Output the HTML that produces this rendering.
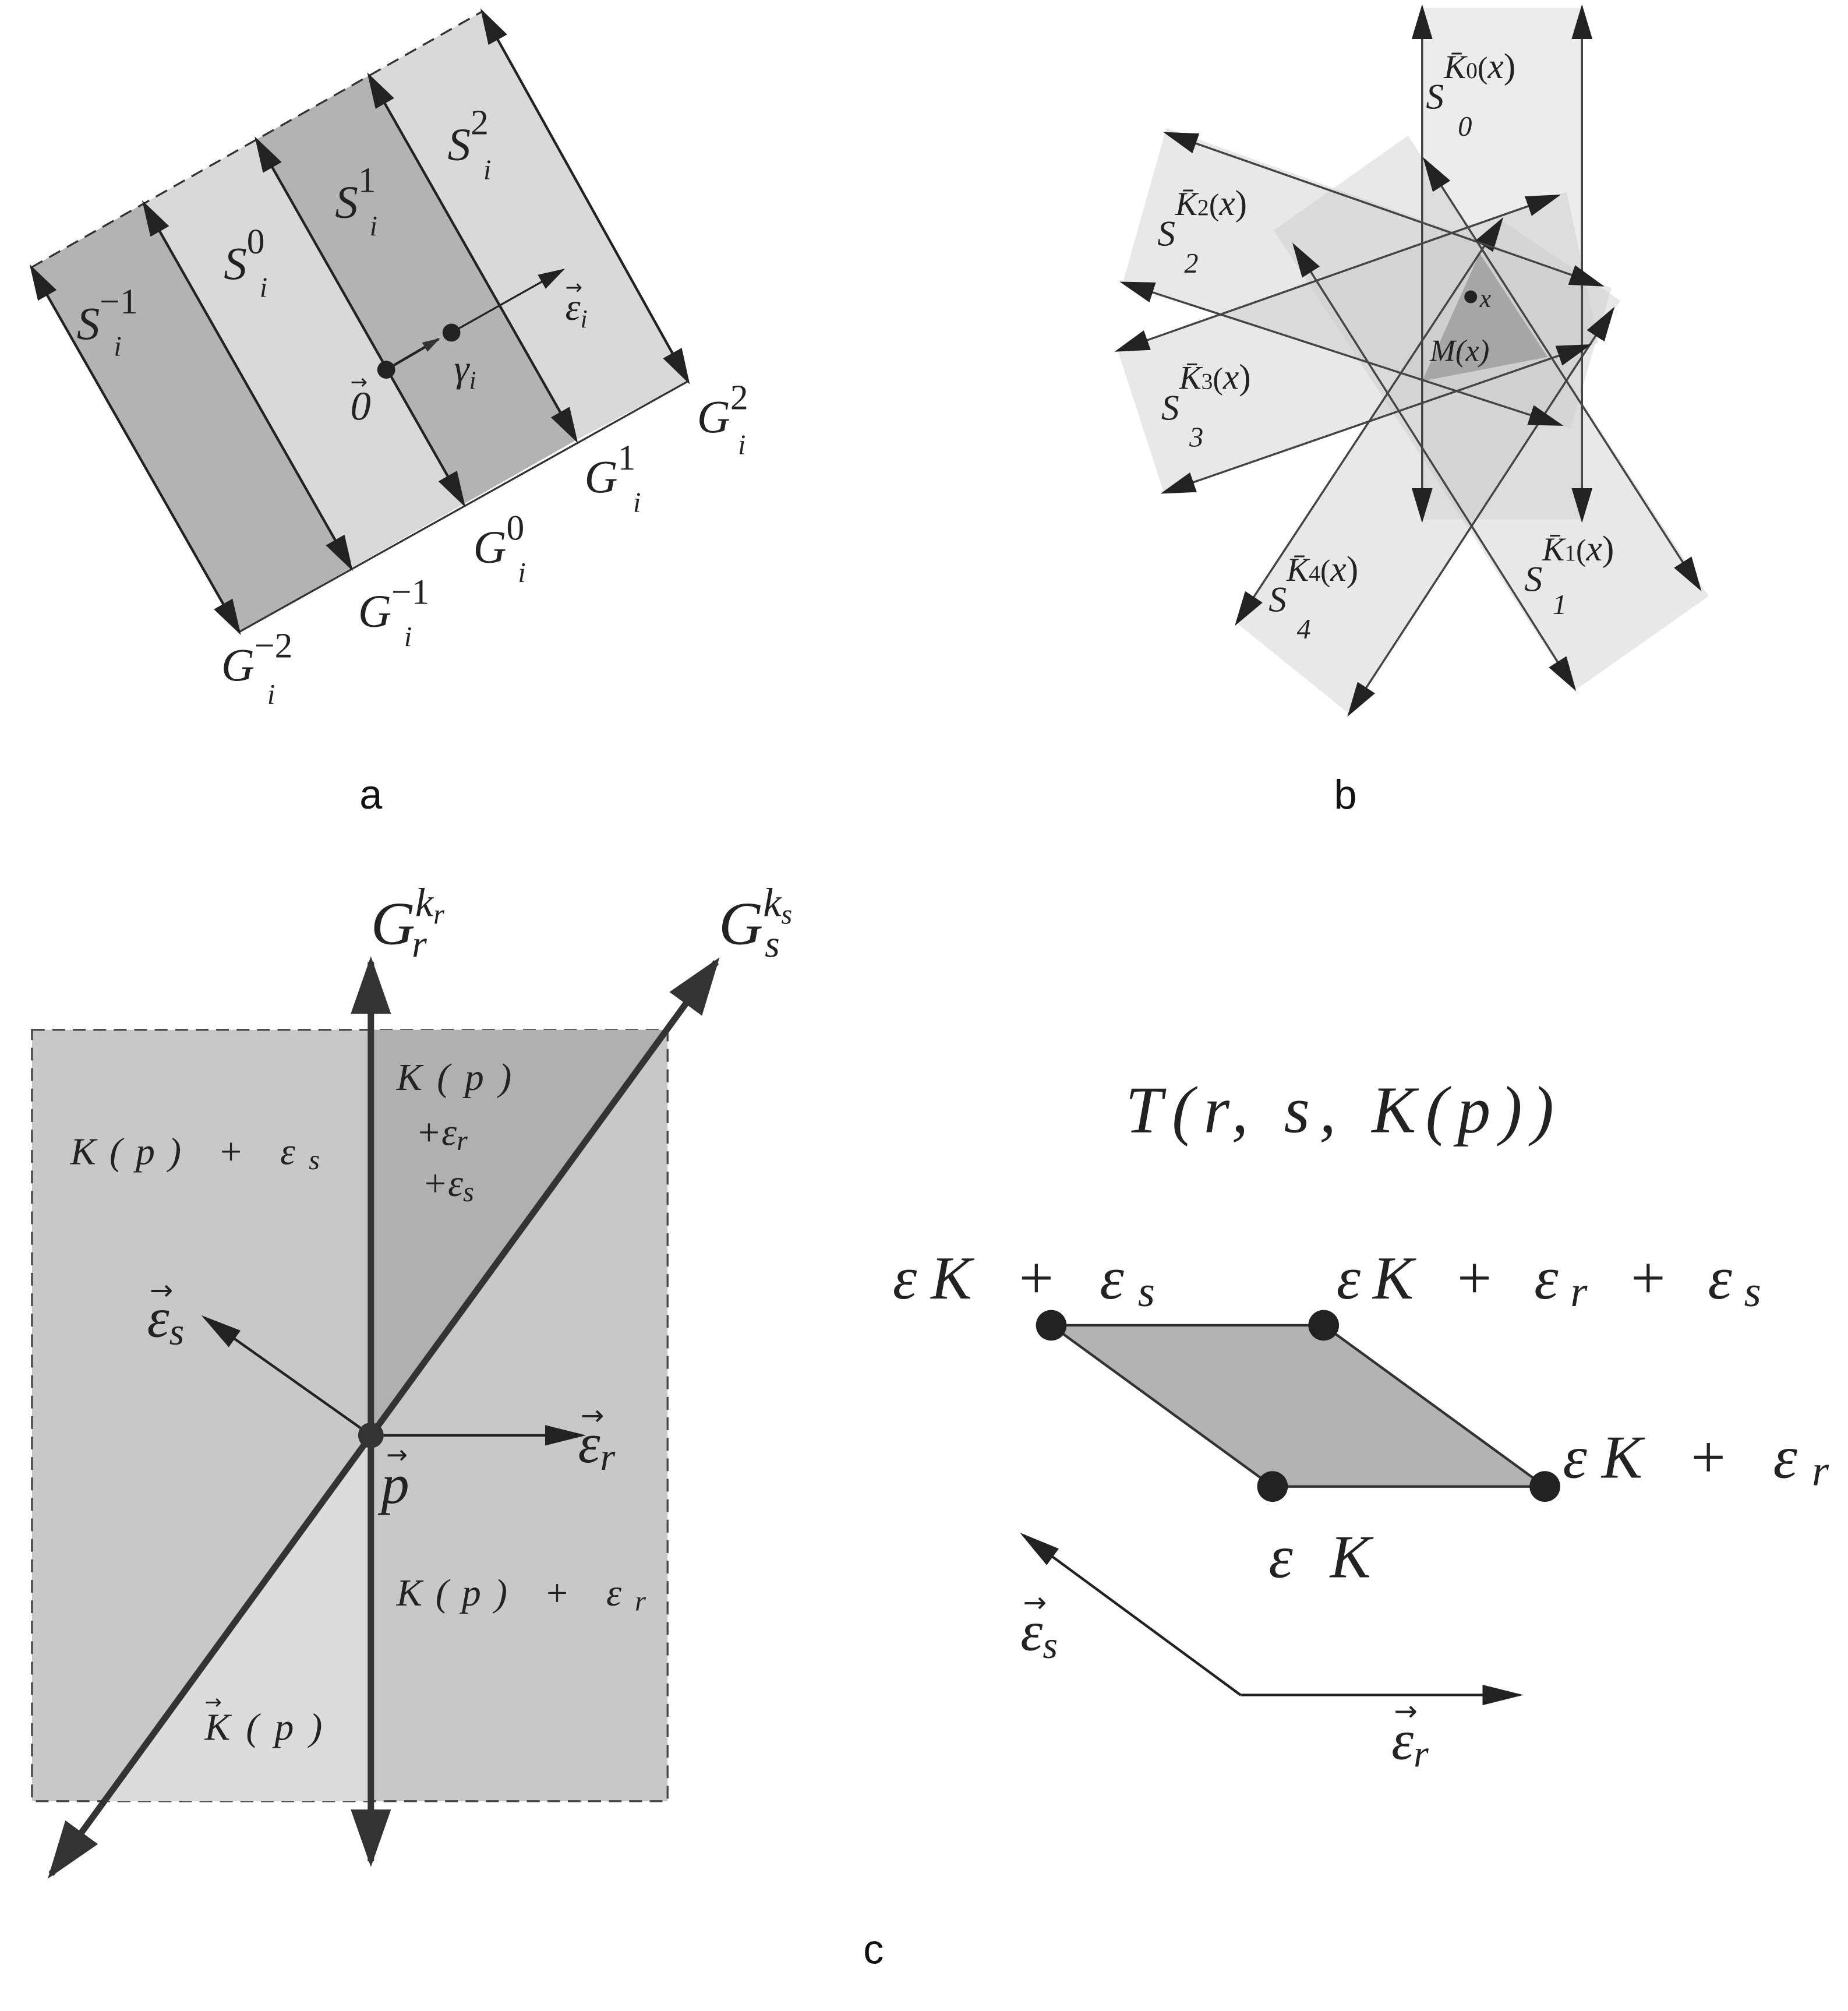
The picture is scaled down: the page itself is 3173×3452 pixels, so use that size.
<!DOCTYPE html>
<html><head><meta charset="utf-8"><style>
html,body{margin:0;padding:0;background:#fff}
svg{display:block}
.m{font-family:"Liberation Serif",serif;font-style:italic;fill:#222}
.s{font-family:"Liberation Sans",sans-serif;fill:#111}
.ar{font-family:"DejaVu Sans",sans-serif;fill:#222}
</style></head><body>
<svg width="3173" height="3452" viewBox="0 0 1445 1572" xmlns="http://www.w3.org/2000/svg">
<defs>
<marker id="ah" viewBox="0 0 10 10" refX="9" refY="5" markerWidth="14" markerHeight="14" markerUnits="strokeWidth" orient="auto-start-reverse"><path d="M0,2 L10,5 L0,8 z" fill="#222"/></marker>
<marker id="ahb" viewBox="0 0 10 10" refX="9" refY="5" markerWidth="17" markerHeight="17" markerUnits="strokeWidth" orient="auto-start-reverse"><path d="M0,2 L10,5 L0,8 z" fill="#222"/></marker>
<marker id="ah2" viewBox="0 0 10 10" refX="9" refY="5" markerWidth="9" markerHeight="9" markerUnits="strokeWidth" orient="auto-start-reverse"><path d="M0,1.5 L10,5 L0,8.5 z" fill="#333"/></marker>
<marker id="ahT" viewBox="0 0 10 10" refX="9" refY="5" markerWidth="7" markerHeight="7" markerUnits="strokeWidth" orient="auto-start-reverse"><path d="M0,2 L10,5 L0,8 z" fill="#333"/></marker>
<marker id="ahS" viewBox="0 0 10 10" refX="9" refY="5" markerWidth="16" markerHeight="16" markerUnits="strokeWidth" orient="auto-start-reverse"><path d="M0,2.5 L10,5 L0,7.5 z" fill="#222"/></marker>
</defs>

<!-- Panel a -->
<g>
<polygon points="24.5,209 112.5,159 274.5,444 187,494" fill="#b3b3b3"/>
<polygon points="112.5,159 200.5,109 362.5,394 274.5,444" fill="#d9d9d9"/>
<polygon points="200.5,109 288.5,59 450.5,344 362.5,394" fill="#b3b3b3"/>
<polygon points="288.5,59 377,9 538,298 450.5,344" fill="#d9d9d9"/>
<polyline points="24.5,209 377,9" fill="none" stroke="#333" stroke-width="1.5" stroke-dasharray="10,6"/>
<polyline points="187,494 538,298" fill="none" stroke="#333" stroke-width="1.5"/>
<g stroke="#222" stroke-width="2" marker-start="url(#ah)" marker-end="url(#ah)">
<line x1="24.5" y1="209" x2="187" y2="494"/>
<line x1="112.5" y1="159" x2="274.5" y2="444"/>
<line x1="200.5" y1="109" x2="362.5" y2="394"/>
<line x1="288.5" y1="59" x2="450.5" y2="344"/>
<line x1="377" y1="9" x2="538" y2="298"/>
</g>
<line x1="302" y1="289" x2="343" y2="265" stroke="#222" stroke-width="2" marker-end="url(#ahT)"/>
<line x1="353" y1="260" x2="440" y2="211" stroke="#222" stroke-width="1.5" marker-end="url(#ah)"/>
<circle cx="302" cy="289" r="7" fill="#222"/><circle cx="353" cy="260" r="7" fill="#222"/>
<text class="m" x="60" y="265" font-size="36">S<tspan dy="-20" font-size="28" font-style="normal">−1</tspan></text>
<text class="m" x="89" y="278" font-size="22">i</text>
<text class="m" x="175" y="218" font-size="36">S<tspan dy="-20" font-size="28" font-style="normal">0</tspan></text>
<text class="m" x="203" y="232" font-size="22">i</text>
<text class="m" x="262" y="170" font-size="36">S<tspan dy="-20" font-size="28" font-style="normal">1</tspan></text>
<text class="m" x="289" y="184" font-size="22">i</text>
<text class="m" x="350" y="125" font-size="36">S<tspan dy="-20" font-size="28" font-style="normal">2</tspan></text>
<text class="m" x="378" y="140" font-size="22">i</text>
<text class="m" x="442" y="250" font-size="30">ε<tspan font-size="20" dy="6">i</tspan></text>
<text class="ar" x="442" y="230" font-size="16">→</text>
<text class="m" x="355" y="298" font-size="30">γ<tspan font-size="20" dy="6">i</tspan></text>
<text class="m" x="274" y="328" font-size="32" font-style="normal">0</text>
<text class="ar" x="274" y="304" font-size="16">→</text>
<text class="m" x="545" y="338" font-size="36">G<tspan dy="-18" font-size="28" font-style="normal">2</tspan></text>
<text class="m" x="577" y="355" font-size="22">i</text>
<text class="m" x="457" y="385" font-size="36">G<tspan dy="-18" font-size="28" font-style="normal">1</tspan></text>
<text class="m" x="495" y="400" font-size="22">i</text>
<text class="m" x="370" y="440" font-size="36">G<tspan dy="-18" font-size="28" font-style="normal">0</tspan></text>
<text class="m" x="405" y="455" font-size="22">i</text>
<text class="m" x="280" y="490" font-size="36">G<tspan dy="-18" font-size="28" font-style="normal">−1</tspan></text>
<text class="m" x="316" y="505" font-size="22">i</text>
<text class="m" x="173" y="532" font-size="36">G<tspan dy="-18" font-size="28" font-style="normal">−2</tspan></text>
<text class="m" x="209" y="550" font-size="22">i</text>
</g>

<!-- Panel b -->
<g>
<polygon points="1112,6 1237,6 1237,406 1112,406" fill="rgb(220,220,220)" fill-opacity="0.55"/>
<polygon points="1101,106 1336,466 1231,540 996,180" fill="rgb(205,205,205)" fill-opacity="0.45"/>
<polygon points="1174,172 967,487 1055,558 1267,235" fill="rgb(205,205,205)" fill-opacity="0.45"/>
<polygon points="1260,225 912,100 878,221 1228,335" fill="rgb(205,205,205)" fill-opacity="0.45"/>
<polygon points="1225,150 874,274 910,385 1250,268" fill="rgb(205,205,205)" fill-opacity="0.45"/>
<polygon points="1157,198 1210,279 1112,298" fill="#8a8a8a" fill-opacity="0.6"/>
<g stroke="#444" stroke-width="1.6" marker-start="url(#ahb)" marker-end="url(#ahb)">
<line x1="1112" y1="6" x2="1112" y2="406"/>
<line x1="1237" y1="6" x2="1237" y2="406"/>
<line x1="1114" y1="125" x2="1329" y2="460"/>
<line x1="1012" y1="192" x2="1231" y2="538"/>
<line x1="1174" y1="172" x2="967" y2="487"/>
<line x1="1261" y1="242" x2="1055" y2="558"/>
<line x1="1252" y1="223" x2="912" y2="104"/>
<line x1="1220" y1="332" x2="878" y2="221"/>
<line x1="1218" y1="153" x2="874" y2="274"/>
<line x1="1242" y1="270" x2="910" y2="385"/>
</g>
<circle cx="1150" cy="232" r="5" fill="#222"/>
<text class="m" x="1157" y="240" font-size="20">x</text>
<text class="m" x="1118" y="282" font-size="24">M(x)</text>
<text class="m" x="1115" y="85" font-size="28">S<tspan dy="-24" font-size="26">K̄</tspan><tspan font-size="18" font-style="normal">0</tspan><tspan font-size="24" font-style="normal">(</tspan>x<tspan font-style="normal">)</tspan></text>
<text class="m" x="1140" y="106" font-size="22" font-style="normal">0</text>
<text class="m" x="905" y="192" font-size="28">S<tspan dy="-24" font-size="26">K̄</tspan><tspan font-size="18" font-style="normal">2</tspan><tspan font-size="24" font-style="normal">(</tspan>x<tspan font-style="normal">)</tspan></text>
<text class="m" x="926" y="213" font-size="22" font-style="normal">2</text>
<text class="m" x="908" y="328" font-size="28">S<tspan dy="-24" font-size="26">K̄</tspan><tspan font-size="18" font-style="normal">3</tspan><tspan font-size="24" font-style="normal">(</tspan>x<tspan font-style="normal">)</tspan></text>
<text class="m" x="930" y="349" font-size="22" font-style="normal">3</text>
<text class="m" x="992" y="478" font-size="28">S<tspan dy="-24" font-size="26">K̄</tspan><tspan font-size="18" font-style="normal">4</tspan><tspan font-size="24" font-style="normal">(</tspan>x<tspan font-style="normal">)</tspan></text>
<text class="m" x="1014" y="499" font-size="22" font-style="normal">4</text>
<text class="m" x="1192" y="462" font-size="28">S<tspan dy="-24" font-size="26">K̄</tspan><tspan font-size="18" font-style="normal">1</tspan><tspan font-size="24" font-style="normal">(</tspan>x<tspan font-style="normal">)</tspan></text>
<text class="m" x="1214" y="480" font-size="22" font-style="normal">1</text>
</g>

<text class="s" x="290" y="632" font-size="32" text-anchor="middle">a</text>
<text class="s" x="1052" y="632" font-size="32" text-anchor="middle">b</text>

<!-- Panel c left -->
<g>
<rect x="25" y="805" width="497" height="603" fill="#c8c8c8" stroke="#444" stroke-width="1.5" stroke-dasharray="10,6"/>
<polygon points="290,1122 290,805 521,805" fill="#b0b0b0"/>
<polygon points="290,1122 290,1408 81,1408" fill="#dcdcdc"/>
<line x1="290" y1="1455" x2="290" y2="752" stroke="#333" stroke-width="5" marker-start="url(#ah2)" marker-end="url(#ah2)"/>
<line x1="40" y1="1465" x2="560" y2="752" stroke="#333" stroke-width="5" marker-start="url(#ah2)" marker-end="url(#ah2)"/>
<line x1="290" y1="1122" x2="160" y2="1030" stroke="#222" stroke-width="2" marker-end="url(#ahS)"/>
<line x1="290" y1="1122" x2="455" y2="1122" stroke="#222" stroke-width="2" marker-end="url(#ahS)"/>
<circle cx="290" cy="1122" r="10" fill="#333"/>
<text class="m" x="290" y="738" font-size="48">G<tspan dy="-22" font-size="32">k<tspan font-size="22" dy="6">r</tspan></tspan></text>
<text class="m" x="322" y="748" font-size="30">r</text>
<text class="m" x="562" y="738" font-size="48">G<tspan dy="-22" font-size="32">k<tspan font-size="22" dy="6">s</tspan></tspan></text>
<text class="m" x="598" y="748" font-size="30">s</text>
<text class="m" x="55" y="910" font-size="30" textLength="195" lengthAdjust="spacing">K(p) + ε<tspan font-size="22" dy="4">s</tspan></text>
<text class="m" x="310" y="852" font-size="30" textLength="90" lengthAdjust="spacing">K(p)</text>
<text class="m" x="325" y="895" font-size="30">+ε<tspan font-size="22" dy="4">r</tspan></text>
<text class="m" x="330" y="935" font-size="30">+ε<tspan font-size="22" dy="4">s</tspan></text>
<text class="m" x="310" y="1255" font-size="30" textLength="195" lengthAdjust="spacing">K(p) + ε<tspan font-size="22" dy="4">r</tspan></text>
<text class="m" x="160" y="1360" font-size="30" textLength="92" lengthAdjust="spacing">K(p)</text>
<text class="ar" x="160" y="1336" font-size="16">→</text>
<text class="m" x="115" y="1045" font-size="44">ε<tspan font-size="30" dy="6">s</tspan></text>
<text class="ar" x="117" y="1016" font-size="22">→</text>
<text class="m" x="452" y="1143" font-size="44">ε<tspan font-size="30" dy="6">r</tspan></text>
<text class="ar" x="454" y="1114" font-size="22">→</text>
<text class="m" x="298" y="1175" font-size="44">p</text>
<text class="ar" x="302" y="1144" font-size="20">→</text>
</g>

<!-- Panel c right -->
<g>
<text class="m" x="880" y="885" font-size="52" textLength="335" lengthAdjust="spacing">T(r, s, K(p))</text>
<polygon points="822,1036 1035,1036 1208,1162 995,1162" fill="#b3b3b3" stroke="#333" stroke-width="2"/>
<circle cx="822" cy="1036" r="12" fill="#222"/><circle cx="1035" cy="1036" r="12" fill="#222"/>
<circle cx="1208" cy="1162" r="12" fill="#222"/><circle cx="995" cy="1162" r="12" fill="#222"/>
<text class="m" x="698" y="1015" font-size="48" textLength="205" lengthAdjust="spacing">εK + ε<tspan font-size="34" dy="6">s</tspan></text>
<text class="m" x="1045" y="1015" font-size="48" textLength="332" lengthAdjust="spacing">εK + ε<tspan font-size="34" dy="6">r</tspan><tspan dy="-6"> + ε</tspan><tspan font-size="34" dy="6">s</tspan></text>
<text class="m" x="1222" y="1155" font-size="48" textLength="208" lengthAdjust="spacing">εK + ε<tspan font-size="34" dy="6">r</tspan></text>
<text class="m" x="992" y="1233" font-size="48" textLength="80" lengthAdjust="spacing">εK</text>
<line x1="970" y1="1325" x2="800" y2="1200" stroke="#222" stroke-width="2" marker-end="url(#ahS)"/>
<line x1="970" y1="1325" x2="1188" y2="1325" stroke="#222" stroke-width="2" marker-end="url(#ahS)"/>
<text class="m" x="798" y="1290" font-size="44">ε<tspan font-size="30" dy="6">s</tspan></text>
<text class="ar" x="800" y="1260" font-size="22">→</text>
<text class="m" x="1088" y="1375" font-size="44">ε<tspan font-size="30" dy="6">r</tspan></text>
<text class="ar" x="1090" y="1345" font-size="22">→</text>
</g>

<text class="s" x="683" y="1535" font-size="32" text-anchor="middle">c</text>
</svg>
</body></html>
